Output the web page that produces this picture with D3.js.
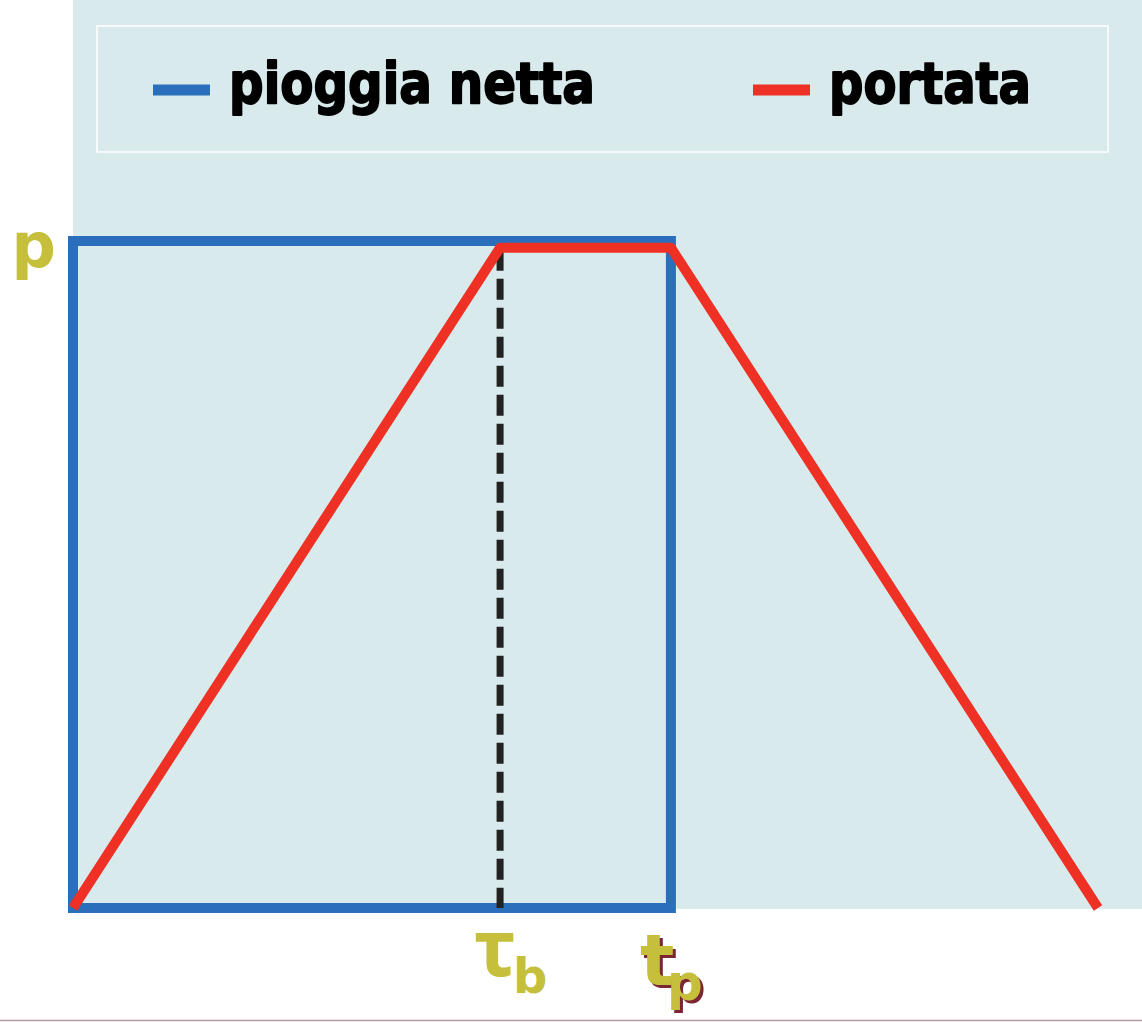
<!DOCTYPE html>
<html>
<head>
<meta charset="utf-8">
<script src="https://cdn.jsdelivr.net/npm/d3@7"></script>
<style>
  html, body { margin: 0; padding: 0; background: #ffffff; }
  svg { display: block; }
</style>
</head>
<body>
<script>
// ---- data ----
const seriesNames = ["pioggia netta", "portata"];
const seriesColors = ["#2b6fbc", "#ee3124"];
// net rainfall (rectangular hyetograph), closed outline
const rainT = [0, 0, 7, 7];
const rainP = [0, 1, 1, 0];
// discharge (trapezoidal hydrograph)
const flowT = [0, 5, 7, 12];
const flowQ = [0, 0.99, 0.99, 0];
// axis marks
const xTickValues = [5, 7];
const xTickMain = ["τ", "t"];
const xTickSub = ["b", "p"];
const yTickValues = [1];
const yTickLabels = ["p"];

// ---- layout ----
const W = 1142, H = 1022;
const svg = d3.select("body").append("svg").attr("width", W).attr("height", H);

const x = d3.scaleLinear().domain([0, 12]).range([73, 1098]);
const y = d3.scaleLinear().domain([0, 1]).range([908, 241]);

// panel background
svg.append("rect").attr("x", 73).attr("y", 0).attr("width", W - 73).attr("height", 909)
  .attr("fill", "#d9eaec");

// bottom rule
svg.append("line").attr("x1", 0).attr("x2", W).attr("y1", 1020.5).attr("y2", 1020.5)
  .attr("stroke", "#b39aa2").attr("stroke-width", 1.5);

// legend box
svg.append("rect").attr("x", 97).attr("y", 26).attr("width", 1011).attr("height", 126)
  .attr("fill", "none").attr("stroke", "#ffffff").attr("stroke-width", 1.5);

const legendItems = [
  { x0: 153, x1: 210, tx: 229, tw: 366 },
  { x0: 753, x1: 810, tx: 829, tw: 202 }
];
legendItems.forEach((it, i) => {
  svg.append("line").attr("x1", it.x0).attr("x2", it.x1).attr("y1", 90).attr("y2", 90)
    .attr("stroke", seriesColors[i]).attr("stroke-width", 11);
  svg.append("text").attr("x", it.tx).attr("y", 103)
    .attr("font-family", "DejaVu Sans, Verdana, sans-serif").attr("font-weight", "bold")
    .attr("font-size", 57).attr("fill", "#000")
    .attr("stroke", "#000").attr("stroke-width", 2).attr("stroke-linejoin", "round")
    .attr("textLength", it.tw).attr("lengthAdjust", "spacingAndGlyphs")
    .text(seriesNames[i]);
});

// rainfall outline
const line = d3.line().x(d => x(d[0])).y(d => y(d[1]));
const rainPts = rainT.map((t, i) => [t, rainP[i]]);
svg.append("path").attr("d", line(rainPts) + "Z")
  .attr("fill", "none").attr("stroke", seriesColors[0]).attr("stroke-width", 10)
  .attr("stroke-linejoin", "miter");

// dashed line at tau_b
svg.append("line").attr("x1", x(5)).attr("x2", x(5)).attr("y1", y(0.99) + 2).attr("y2", y(0))
  .attr("stroke", "#222222").attr("stroke-width", 7).attr("stroke-dasharray", "21,8");

// discharge line
const flowPts = flowT.map((t, i) => [t, flowQ[i]]);
svg.append("path").attr("d", line(flowPts))
  .attr("fill", "none").attr("stroke", seriesColors[1]).attr("stroke-width", 10)
  .attr("stroke-linejoin", "round").attr("stroke-linecap", "butt");

// y label
const olive = "#c5bf3b";
svg.selectAll("text.ylab").data(yTickValues).enter().append("text")
  .attr("class", "ylab")
  .attr("x", 56).attr("y", d => y(d) + 26)
  .attr("text-anchor", "end")
  .attr("font-family", "DejaVu Sans, Verdana, sans-serif").attr("font-weight", "bold")
  .attr("font-size", 62).attr("fill", olive)
  .text((d, i) => yTickLabels[i]);

// x labels
const lab = [
  { dx: -26, by: 976, fs: 78, font: "Noto Sans, DejaVu Sans, sans-serif", sdx: 13, sby: 993, sfs: 48, shadow: false },
  { dx: -31, by: 985, fs: 72, font: "DejaVu Sans, Verdana, sans-serif", sdx: -4, sby: 1000, sfs: 50, shadow: true }
];
xTickValues.forEach((v, i) => {
  const L = lab[i];
  const draw = (ox, oy, col) => {
    svg.append("text").attr("x", x(v) + L.dx + ox).attr("y", L.by + oy)
      .attr("font-family", L.font).attr("font-weight", "bold")
      .attr("font-size", L.fs).attr("fill", col).text(xTickMain[i]);
    svg.append("text").attr("x", x(v) + L.sdx + ox).attr("y", L.sby + oy)
      .attr("font-family", "DejaVu Sans, Verdana, sans-serif").attr("font-weight", "bold")
      .attr("font-size", L.sfs).attr("fill", col).text(xTickSub[i]);
  };
  if (L.shadow) draw(3, 3, "#7b2535");
  draw(0, 0, olive);
});
</script>
</body>
</html>
